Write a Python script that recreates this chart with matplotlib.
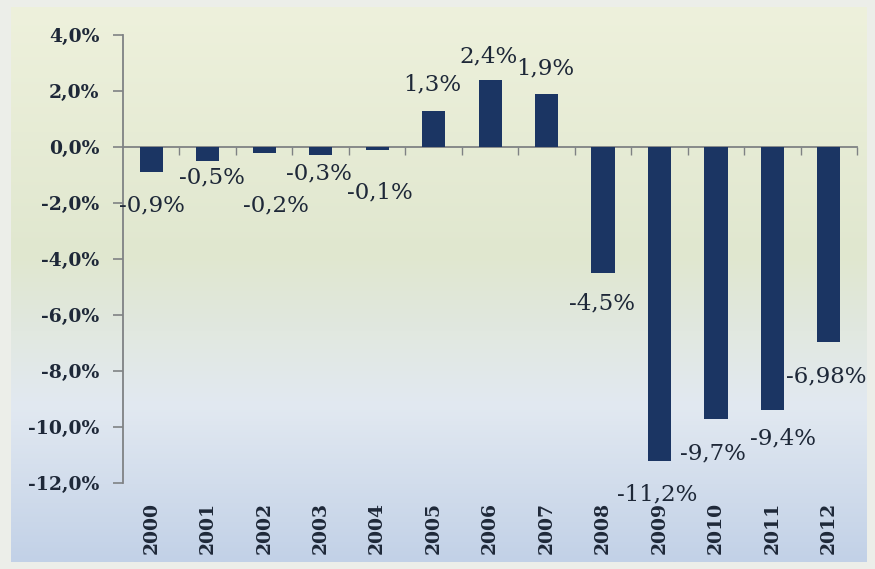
import matplotlib

matplotlib.use("Agg")
import matplotlib.pyplot as plt
import numpy as np
from matplotlib.colors import LinearSegmentedColormap
from matplotlib.transforms import blended_transform_factory

years = ["2000", "2001", "2002", "2003", "2004", "2005", "2006",
         "2007", "2008", "2009", "2010", "2011", "2012"]
values = [-0.9, -0.5, -0.2, -0.3, -0.1, 1.3, 2.4, 1.9, -4.5, -11.2, -9.7, -9.4, -6.98]
value_labels = ["-0,9%", "-0,5%", "-0,2%", "-0,3%", "-0,1%", "1,3%", "2,4%",
                "1,9%", "-4,5%", "-11,2%", "-9,7%", "-9,4%", "-6,98%"]
y_ticks = [4, 2, 0, -2, -4, -6, -8, -10, -12]
y_tick_labels = ["4,0%", "2,0%", "0,0%", "-2,0%", "-4,0%", "-6,0%", "-8,0%", "-10,0%", "-12,0%"]

# label placement (x shift in category units, y in data units)
label_dx = [0.02, 0.07, 0.2, -0.03, 0.04, -0.02, -0.03, -0.02, -0.02, -0.04, -0.05, 0.18, -0.04]
label_y = [-2.1, -1.1, -2.1, -0.93, -1.64, 2.25, 3.25, 2.82, -5.6, -12.39, -10.93, -10.39, -8.18]

BAR = "#1b3563"
TEXT = "#1e2838"
AXIS = "#7f8284"

fig = plt.figure(figsize=(8.75, 5.69), dpi=100)
fig.patch.set_facecolor("#eceee9")

# background gradient
bg = fig.add_axes([0.012, 0.012, 0.978, 0.976])
cmap = LinearSegmentedColormap.from_list(
    "bg", [(0.0, "#eef1dc"), (0.45, "#e0e7cf"), (0.72, "#e2e9f1"), (1.0, "#c2d1e7")]
)
bg.imshow(np.linspace(0, 1, 256).reshape(-1, 1), aspect="auto", cmap=cmap,
          extent=[0, 1, 0, 1])
bg.set_axis_off()

ax = fig.add_axes([0.1406, 0.1511, 0.839, 0.7874])
ax.patch.set_alpha(0)
x = np.arange(len(years))
ax.bar(x, values, width=0.41, color=BAR, zorder=3)

ax.set_xlim(-0.5, len(years) - 0.5)
ax.set_ylim(-12, 4)

for side in ["top", "right"]:
    ax.spines[side].set_visible(False)
ax.spines["left"].set_color(AXIS)
ax.spines["left"].set_linewidth(1.3)
ax.spines["bottom"].set_position(("data", 0))
ax.spines["bottom"].set_color(AXIS)
ax.spines["bottom"].set_linewidth(1.3)
ax.spines["bottom"].set_zorder(2)

ax.set_yticks(y_ticks)
ax.set_yticklabels(y_tick_labels, fontfamily="DejaVu Serif", fontweight="bold",
                   fontsize=13.5, color=TEXT)
ax.tick_params(axis="y", length=7, width=1.2, color=AXIS, pad=10)

ax.set_xticks(np.arange(len(years)) + 0.5)
ax.set_xticklabels([])
ax.tick_params(axis="x", length=6, width=1.0, color=AXIS, direction="out")

trans = blended_transform_factory(ax.transData, ax.transAxes)
for i, yr in enumerate(years):
    ax.text(i, -0.042, yr, transform=trans, rotation=90, ha="center", va="top",
            fontfamily="DejaVu Serif", fontweight="bold", fontsize=13.5, color=TEXT)

for i, lab in enumerate(value_labels):
    ax.text(i + label_dx[i], label_y[i], lab, ha="center", va="center",
            fontfamily="DejaVu Serif", fontsize=16.5, color=TEXT, zorder=4)

fig.savefig("out.png", dpi=100, facecolor=fig.get_facecolor())
